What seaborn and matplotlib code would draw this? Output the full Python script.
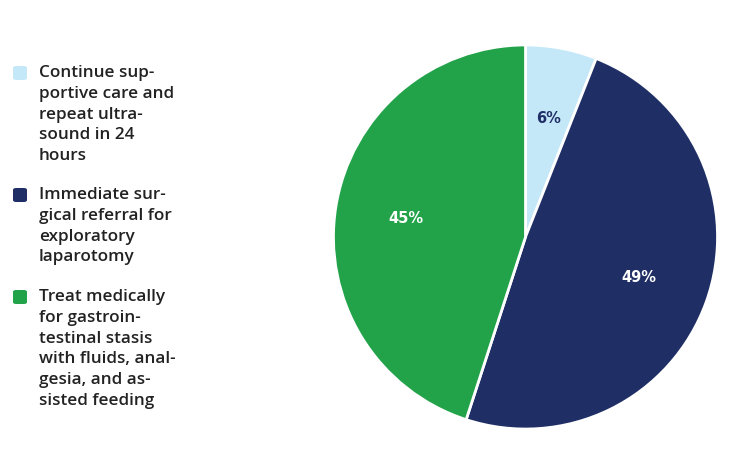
import matplotlib.pyplot as plt
import seaborn as sns
from matplotlib.patches import FancyBboxPatch

sns.set_theme(style="white")
plt.rcParams['font.family'] = ['Open Sans', 'DejaVu Sans']

# data
labels = [
    "Continue sup-\nportive care and\nrepeat ultra-\nsound in 24\nhours",
    "Immediate sur-\ngical referral for\nexploratory\nlaparotomy",
    "Treat medically\nfor gastroin-\ntestinal stasis\nwith fluids, anal-\ngesia, and as-\nsisted feeding",
]
shares = [6, 49, 45]
colors = ["#C5E8F9", "#1F2F66", "#22A34A"]
pct_colors = ["#1F2F66", "white", "white"]

W, H = 752, 463
fig = plt.figure(figsize=(W / 100, H / 100), dpi=100)
fig.patch.set_facecolor("white")

# pie axes, centre ~ (525, 237) px, radius ~193 px
cx, cy, r = 525.5, 237, 193
ax = fig.add_axes([(cx - r) / W, (H - cy - r) / H, 2 * r / W, 2 * r / H])
wedges, _, autotexts = ax.pie(
    shares, colors=colors, startangle=90, counterclock=False,
    autopct=lambda p: f"{p:.0f}%", pctdistance=0.63,
    wedgeprops=dict(edgecolor="white", linewidth=2),
)
for t, c in zip(autotexts, pct_colors):
    t.set_color(c)
    t.set_fontweight("bold")
    t.set_fontsize(10.5)
    t.set_family("DejaVu Sans")
ax.set_xlim(-1.005, 1.005)
ax.set_ylim(-1.005, 1.005)
ax.set_aspect("equal")
ax.axis("off")

# legend, drawn by hand so the swatch lines up with the first text line
tops = [65, 187, 289]
for lab, col, top in zip(labels, colors, tops):
    fig.patches.append(FancyBboxPatch(
        (13 / W, (H - top - 15) / H), 14 / W, 14 / H,
        boxstyle="round,pad=0,rounding_size=0.004",
        transform=fig.transFigure, facecolor=col, edgecolor="none"))
    fig.text(39 / W, (H - top) / H, lab, ha="left", va="top",
             fontsize=12.3, fontweight="semibold", color="#222222",
             linespacing=1.4)

fig.savefig("out.png", dpi=100, facecolor="white")
